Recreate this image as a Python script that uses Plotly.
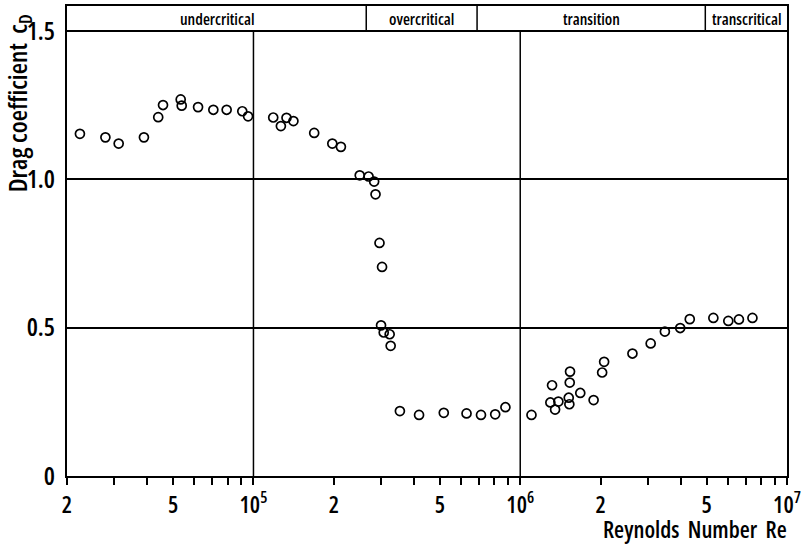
import math
import plotly.graph_objects as go

# ---- data ----
reynolds = [
    2.236e4, 2.786e4, 3.124e4, 3.885e4, 4.395e4, 4.581e4, 5.336e4, 5.383e4, 6.199e4, 7.073e4,
    7.934e4, 9.08e4, 9.546e4, 1.186e5, 1.267e5, 1.330e5, 1.412e5, 1.689e5, 1.975e5, 2.127e5,
    2.502e5, 2.701e5, 2.834e5, 2.868e5, 2.968e5, 3.034e5, 3.008e5, 3.078e5, 3.240e5, 3.268e5,
    3.539e5, 4.176e5, 5.169e5, 6.291e5, 7.127e5, 8.057e5, 8.800e5, 1.102e6, 1.316e6, 1.297e6,
    1.351e6, 1.390e6, 1.537e6, 1.533e6, 1.520e6, 1.528e6, 1.679e6, 1.884e6, 2.028e6, 2.063e6,
    2.634e6, 3.083e6, 3.485e6, 3.978e6, 4.320e6, 5.296e6, 6.025e6, 6.604e6, 7.421e6,
]
drag_cd = [
    1.154, 1.142, 1.121, 1.142, 1.210, 1.251, 1.270, 1.249, 1.244, 1.235,
    1.235, 1.230, 1.213, 1.209, 1.180, 1.208, 1.197, 1.157, 1.121, 1.110,
    1.014, 1.010, 0.993, 0.950, 0.786, 0.705, 0.508, 0.484, 0.478, 0.439,
    0.219, 0.206, 0.213, 0.211, 0.206, 0.208, 0.232, 0.206, 0.306, 0.248,
    0.224, 0.251, 0.352, 0.315, 0.264, 0.242, 0.280, 0.256, 0.349, 0.385,
    0.413, 0.447, 0.487, 0.499, 0.529, 0.533, 0.523, 0.528, 0.533,
]

regime_names = ["undercritical", "overcritical", "transition", "transcritical"]
regime_bounds = [2e4, 2.647e5, 6.89e5, 4.94e6, 1e7]

decade_lines = [1e5, 1e6]

x_min, x_max = 2e4, 1e7
y_min, y_max = 0.0, 1.585
band_bottom = 1.5

x_tick_vals = [m * 10 ** e for e in (4, 5, 6) for m in range(1, 10)
               if x_min <= m * 10 ** e <= x_max] + [1e7]
x_tick_label_map = {2e4: "2", 5e4: "5", 1e5: "10<sup>5</sup>", 2e5: "2", 5e5: "5",
                    1e6: "10<sup>6</sup>", 2e6: "2", 5e6: "5", 1e7: "10<sup>7</sup>"}
y_tick_vals = [0, 0.5, 1.0, 1.5]
y_tick_text = ["0", "0.5", "1.0", "1.5"]

y_title = "Drag coefficient  c<sub>D</sub>"
x_title = "Reynolds  Number  Re"

FONT = "Open Sans, Roboto Condensed, sans-serif"


def cond(s):
    """Render text with the condensed width of the font."""
    if s == "":
        return ""
    return "<span style='font-stretch:condensed'>" + s + "</span>"


fig = go.Figure()
fig.add_trace(go.Scatter(
    x=reynolds, y=drag_cd, mode="markers",
    marker=dict(symbol="circle-open", size=9, color="black", line=dict(width=1.7, color="black")),
    showlegend=False, hoverinfo="x+y",
))

shapes = []
for xv in decade_lines:
    shapes.append(dict(type="line", xref="x", yref="y", x0=xv, x1=xv, y0=y_min, y1=band_bottom,
                       line=dict(color="black", width=1.5), layer="below"))
for xv in regime_bounds[1:-1]:
    shapes.append(dict(type="line", xref="x", yref="y", x0=xv, x1=xv, y0=band_bottom, y1=y_max,
                       line=dict(color="black", width=1.5)))

annotations = []
for name, a, b in zip(regime_names, regime_bounds[:-1], regime_bounds[1:]):
    annotations.append(dict(
        x=(math.log10(a) + math.log10(b)) / 2, y=(band_bottom + y_max) / 2,
        xref="x", yref="y", text=cond(name), showarrow=False,
        font=dict(family=FONT, size=16, color="black", weight=600),
        xanchor="center", yanchor="middle"))

annotations.append(dict(x=-0.068, y=0.793, xref="paper", yref="paper",
                        text=cond(y_title), textangle=-90, showarrow=False,
                        font=dict(family=FONT, size=26, color="black", weight=600),
                        xanchor="center", yanchor="middle"))
annotations.append(dict(x=1.003, y=-0.113, xref="paper", yref="paper",
                        text=cond(x_title), showarrow=False,
                        font=dict(family=FONT, size=23, color="black", weight=600),
                        xanchor="right", yanchor="middle"))

fig.update_layout(
    width=801, height=546,
    margin=dict(l=67, r=14, t=6, b=70, autoexpand=False),
    paper_bgcolor="white", plot_bgcolor="white",
    shapes=shapes, annotations=annotations,
    font=dict(family=FONT, color="black", size=24),
    xaxis=dict(
        type="log", range=[math.log10(x_min), math.log10(x_max)], automargin=False,
        tickvals=x_tick_vals, ticktext=[cond(x_tick_label_map.get(v, "")) for v in x_tick_vals],
        ticks="outside", ticklen=7, tickwidth=1.5, tickcolor="black",
        ticklabeloverflow="allow",
        showgrid=False, zeroline=False,
        showline=True, linecolor="black", linewidth=2, mirror=True,
        tickfont=dict(family=FONT, size=23, color="black", weight=600),
    ),
    yaxis=dict(
        range=[y_min, y_max], automargin=False,
        tickvals=y_tick_vals, ticktext=[cond(t) for t in y_tick_text],
        ticks="", showgrid=True, gridcolor="black", gridwidth=1.5,
        zeroline=False, showline=True, linecolor="black", linewidth=2, mirror=True,
        tickfont=dict(family=FONT, size=25, color="black", weight=600), ticklabelstandoff=5,
    ),
)

fig.write_html("out.html")
